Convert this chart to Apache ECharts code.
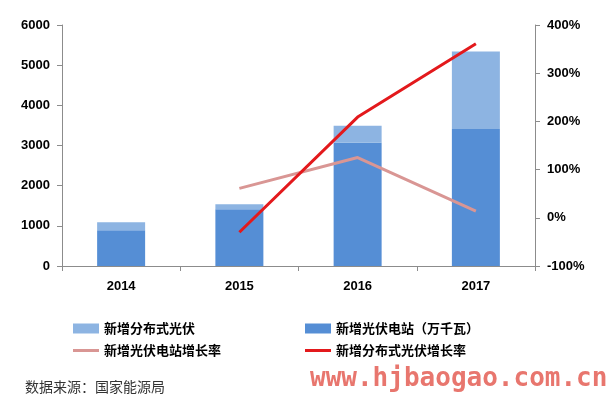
<!DOCTYPE html>
<html><head><meta charset="utf-8">
<script src="https://cdn.jsdelivr.net/npm/echarts@6/dist/echarts.min.js"></script>
<style>html,body{margin:0;padding:0;background:#fff}#c{width:606px;height:405px}</style>
</head><body><div id="c"></div>
<script>
const years = ['2014','2015','2016','2017'];
const stationNew = [890, 1410, 3070, 3410];       // 新增光伏电站（万千瓦）
const distNew = [200, 130, 420, 1930];             // 新增分布式光伏
const stationGrowth = [null, 61, 125, 14];         // 新增光伏电站增长率 (%)
const distGrowth = [null, -30, 209, 361];          // 新增分布式光伏增长率 (%)
const leftTicks = {min: 0, max: 6000, interval: 1000};
const rightTicks = {min: -100, max: 400, interval: 100};

const chart = echarts.init(document.getElementById('c'));
const axisFont = {color: '#000', fontWeight: 'bold', fontSize: 13, fontFamily: 'Liberation Sans'};
const axisLine = {show: true, lineStyle: {color: '#8c8c8c', width: 1}};
const lineIcon = 'path://M0,0L26,0L26,3L0,3Z';
const legendText = {fontSize: 13, fontWeight: 'bold', color: '#000', fontFamily: 'Noto Sans CJK SC'};
chart.setOption({
  animation: false,
  backgroundColor: '#fff',
  grid: {left: 62, right: 71, top: 25, bottom: 139},
  xAxis: {
    type: 'category', data: years,
    axisLine: axisLine,
    axisTick: {show: true, length: 5, inside: false, lineStyle: {color: '#8c8c8c'}},
    axisLabel: Object.assign({margin: 14}, axisFont)
  },
  yAxis: [{
    type: 'value', min: leftTicks.min, max: leftTicks.max, interval: leftTicks.interval,
    axisLine: axisLine, splitLine: {show: false},
    axisTick: {show: true, length: 5, lineStyle: {color: '#8c8c8c'}},
    axisLabel: Object.assign({margin: 12, formatter: v => String(v)}, axisFont)
  }, {
    type: 'value', position: 'right', min: rightTicks.min, max: rightTicks.max, interval: rightTicks.interval,
    axisLine: axisLine, splitLine: {show: false},
    axisTick: {show: true, length: 5, lineStyle: {color: '#8c8c8c'}},
    axisLabel: Object.assign({margin: 12, formatter: '{value}%'}, axisFont)
  }],
  legend: [{
    left: 68, top: 317, orient: 'vertical', itemWidth: 26, itemHeight: 10, itemGap: 9,
    data: [{name: '新增分布式光伏', icon: 'rect'}, {name: '新增光伏电站增长率', icon: lineIcon}],
    textStyle: legendText
  }, {
    left: 300, top: 317, orient: 'vertical', itemWidth: 26, itemHeight: 10, itemGap: 9,
    data: [{name: '新增光伏电站（万千瓦）', icon: 'rect'}, {name: '新增分布式光伏增长率', icon: lineIcon}],
    textStyle: legendText
  }],
  series: [{
    name: '新增光伏电站（万千瓦）', type: 'bar', stack: 'a', data: stationNew, barWidth: 48,
    itemStyle: {color: '#558ed5'}
  }, {
    name: '新增分布式光伏', type: 'bar', stack: 'a', data: distNew, barWidth: 48,
    itemStyle: {color: '#8db4e2'}
  }, {
    name: '新增光伏电站增长率', type: 'line', yAxisIndex: 1, data: stationGrowth,
    symbol: 'none', lineStyle: {color: '#d99694', width: 3}, itemStyle: {color: '#d99694'}
  }, {
    name: '新增分布式光伏增长率', type: 'line', yAxisIndex: 1, data: distGrowth,
    symbol: 'none', lineStyle: {color: '#e3191c', width: 3}, itemStyle: {color: '#e3191c'}
  }],
  graphic: [{
    type: 'text', left: 25, top: 380,
    style: {text: '数据来源：国家能源局', fontSize: 14, fill: '#333', fontFamily: 'Noto Sans CJK SC'}
  }, {
    type: 'text', left: 310, top: 366,
    style: {text: 'www.hjbaogao.com.cn', fontSize: 26, fontWeight: 'bold', fill: '#e8766e', fontFamily: 'DejaVu Sans Mono'}
  }]
});
</script></body></html>
